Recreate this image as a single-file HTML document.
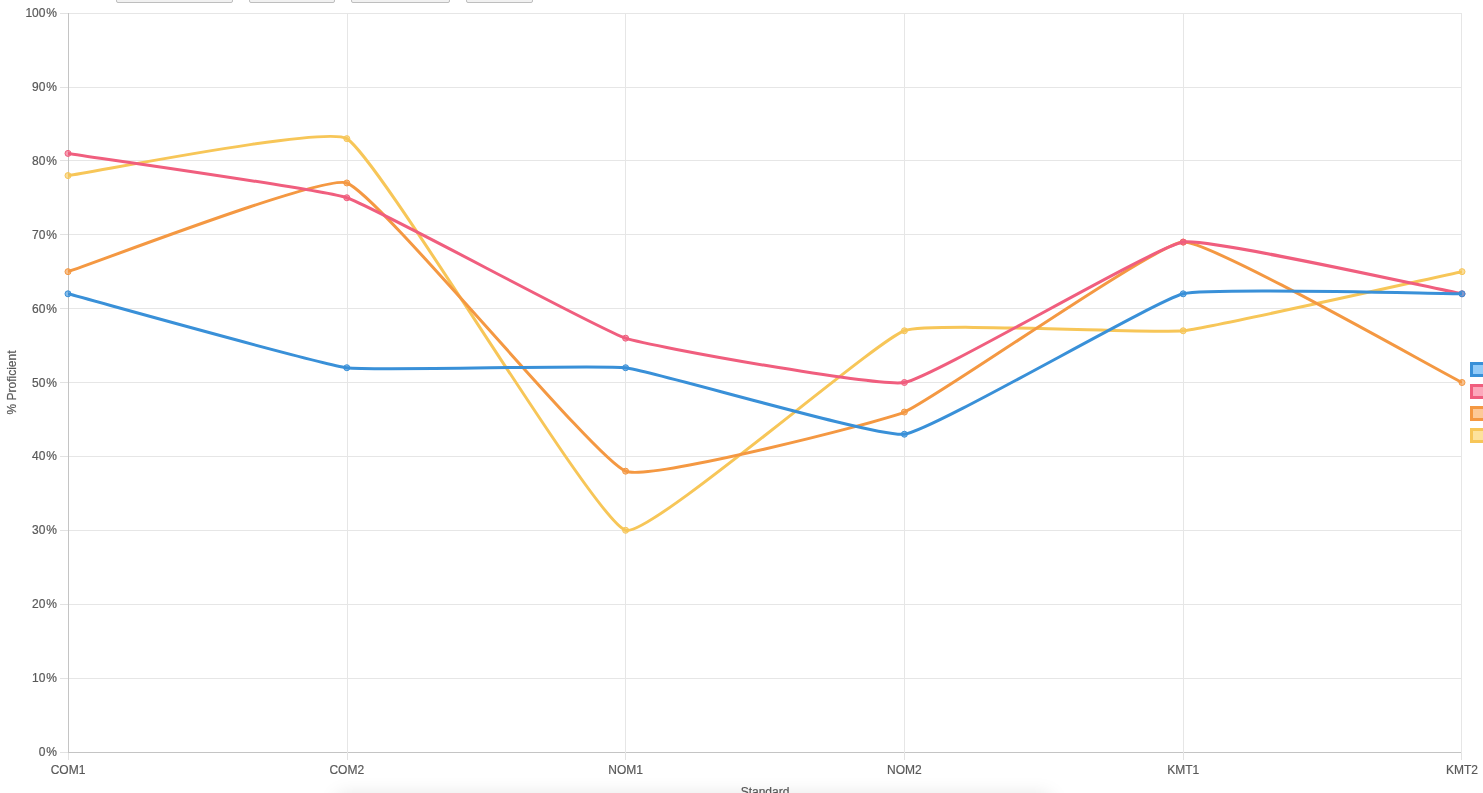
<!DOCTYPE html>
<html lang="en"><head><meta charset="utf-8"><title>Standards Proficiency</title>
<style>
html,body{margin:0;padding:0;background:#fff;}
body{width:1483px;height:793px;overflow:hidden;position:relative;font-family:"Liberation Sans",Arial,Helvetica,sans-serif;}
.btn{position:absolute;top:-20px;height:23px;box-sizing:border-box;background:#f1f1f1;border:1px solid #bebebe;border-radius:2px;}
.shadow{position:absolute;left:338px;width:712px;top:796px;height:20px;background:#ddd;box-shadow:0 0 20px 0 rgba(0,0,0,0.13);}
</style></head><body>
<div class="btn" style="left:116px;width:117px"></div><div class="btn" style="left:249px;width:86px"></div><div class="btn" style="left:351px;width:99px"></div><div class="btn" style="left:466px;width:67px"></div>
<svg width="1483" height="793" viewBox="0 0 1483 793" style="position:absolute;left:0;top:0">
<defs><clipPath id="ca"><rect x="68.0" y="13.0" width="1394.0" height="739.0"/></clipPath></defs>
<g stroke-width="1" fill="none" shape-rendering="crispEdges">
<line x1="69.0" y1="752.5" x2="1462.0" y2="752.5" stroke="#c4c4c4"/>
<line x1="60.0" y1="752.5" x2="68.0" y2="752.5" stroke="#e2e2e2"/>
<line x1="69.0" y1="678.5" x2="1462.0" y2="678.5" stroke="#e6e6e6"/>
<line x1="60.0" y1="678.5" x2="68.0" y2="678.5" stroke="#e2e2e2"/>
<line x1="69.0" y1="604.5" x2="1462.0" y2="604.5" stroke="#e6e6e6"/>
<line x1="60.0" y1="604.5" x2="68.0" y2="604.5" stroke="#e2e2e2"/>
<line x1="69.0" y1="530.5" x2="1462.0" y2="530.5" stroke="#e6e6e6"/>
<line x1="60.0" y1="530.5" x2="68.0" y2="530.5" stroke="#e2e2e2"/>
<line x1="69.0" y1="456.5" x2="1462.0" y2="456.5" stroke="#e6e6e6"/>
<line x1="60.0" y1="456.5" x2="68.0" y2="456.5" stroke="#e2e2e2"/>
<line x1="69.0" y1="382.5" x2="1462.0" y2="382.5" stroke="#e6e6e6"/>
<line x1="60.0" y1="382.5" x2="68.0" y2="382.5" stroke="#e2e2e2"/>
<line x1="69.0" y1="308.5" x2="1462.0" y2="308.5" stroke="#e6e6e6"/>
<line x1="60.0" y1="308.5" x2="68.0" y2="308.5" stroke="#e2e2e2"/>
<line x1="69.0" y1="234.5" x2="1462.0" y2="234.5" stroke="#e6e6e6"/>
<line x1="60.0" y1="234.5" x2="68.0" y2="234.5" stroke="#e2e2e2"/>
<line x1="69.0" y1="160.5" x2="1462.0" y2="160.5" stroke="#e6e6e6"/>
<line x1="60.0" y1="160.5" x2="68.0" y2="160.5" stroke="#e2e2e2"/>
<line x1="69.0" y1="87.5" x2="1462.0" y2="87.5" stroke="#e6e6e6"/>
<line x1="60.0" y1="87.5" x2="68.0" y2="87.5" stroke="#e2e2e2"/>
<line x1="69.0" y1="13.5" x2="1462.0" y2="13.5" stroke="#e6e6e6"/>
<line x1="60.0" y1="13.5" x2="68.0" y2="13.5" stroke="#e2e2e2"/>
<line x1="68.5" y1="13.0" x2="68.5" y2="753.0" stroke="#c4c4c4"/>
<line x1="68.5" y1="753.0" x2="68.5" y2="760.0" stroke="#e2e2e2"/>
<line x1="347.5" y1="13.0" x2="347.5" y2="753.0" stroke="#e6e6e6"/>
<line x1="347.5" y1="753.0" x2="347.5" y2="760.0" stroke="#e2e2e2"/>
<line x1="625.5" y1="13.0" x2="625.5" y2="753.0" stroke="#e6e6e6"/>
<line x1="625.5" y1="753.0" x2="625.5" y2="760.0" stroke="#e2e2e2"/>
<line x1="904.5" y1="13.0" x2="904.5" y2="753.0" stroke="#e6e6e6"/>
<line x1="904.5" y1="753.0" x2="904.5" y2="760.0" stroke="#e2e2e2"/>
<line x1="1183.5" y1="13.0" x2="1183.5" y2="753.0" stroke="#e6e6e6"/>
<line x1="1183.5" y1="753.0" x2="1183.5" y2="760.0" stroke="#e2e2e2"/>
<line x1="1461.5" y1="13.0" x2="1461.5" y2="753.0" stroke="#e6e6e6"/>
<line x1="1461.5" y1="753.0" x2="1461.5" y2="760.0" stroke="#e2e2e2"/>
</g>
<g font-family="'Liberation Sans', Arial, Helvetica, sans-serif" font-size="12" fill="#595959" stroke="#595959" stroke-width="0.2">
<text x="57" y="756" text-anchor="end">0<tspan dx="0.9">%</tspan></text>
<text x="57" y="682" text-anchor="end">10<tspan dx="0.9">%</tspan></text>
<text x="57" y="608" text-anchor="end">20<tspan dx="0.9">%</tspan></text>
<text x="57" y="534" text-anchor="end">30<tspan dx="0.9">%</tspan></text>
<text x="57" y="460" text-anchor="end">40<tspan dx="0.9">%</tspan></text>
<text x="57" y="387" text-anchor="end">50<tspan dx="0.9">%</tspan></text>
<text x="57" y="313" text-anchor="end">60<tspan dx="0.9">%</tspan></text>
<text x="57" y="239" text-anchor="end">70<tspan dx="0.9">%</tspan></text>
<text x="57" y="165" text-anchor="end">80<tspan dx="0.9">%</tspan></text>
<text x="57" y="91" text-anchor="end">90<tspan dx="0.9">%</tspan></text>
<text x="57" y="17" text-anchor="end">100<tspan dx="0.9">%</tspan></text>
<text x="68.0" y="774" text-anchor="middle">COM1</text>
<text x="346.8" y="774" text-anchor="middle">COM2</text>
<text x="625.6" y="774" text-anchor="middle">NOM1</text>
<text x="904.4" y="774" text-anchor="middle">NOM2</text>
<text x="1183.2" y="774" text-anchor="middle">KMT1</text>
<text x="1462.0" y="774" text-anchor="middle">KMT2</text>
<text x="765" y="796" text-anchor="middle">Standard</text>
<text transform="translate(15.8 382.5) rotate(-90)" text-anchor="middle">% Proficient</text>
</g>
<path d="M68.00 175.58 C95.88 171.89 326.22 125.54 346.80 138.63 C381.98 161.01 593.05 519.08 625.60 530.30 C648.81 538.30 873.65 341.77 904.40 330.77 C929.41 321.82 1155.63 333.69 1183.20 330.77 C1211.39 327.78 1434.12 277.56 1462.00 271.65" fill="none" stroke="rgb(247,198,88)" stroke-width="3" stroke-linejoin="miter" clip-path="url(#ca)"/>
<circle cx="68.00" cy="175.58" r="3" fill="rgba(247,198,88,0.6)" stroke="rgb(247,198,88)" stroke-width="1"/>
<circle cx="346.80" cy="138.63" r="3" fill="rgba(247,198,88,0.6)" stroke="rgb(247,198,88)" stroke-width="1"/>
<circle cx="625.60" cy="530.30" r="3" fill="rgba(247,198,88,0.6)" stroke="rgb(247,198,88)" stroke-width="1"/>
<circle cx="904.40" cy="330.77" r="3" fill="rgba(247,198,88,0.6)" stroke="rgb(247,198,88)" stroke-width="1"/>
<circle cx="1183.20" cy="330.77" r="3" fill="rgba(247,198,88,0.6)" stroke="rgb(247,198,88)" stroke-width="1"/>
<circle cx="1462.00" cy="271.65" r="3" fill="rgba(247,198,88,0.6)" stroke="rgb(247,198,88)" stroke-width="1"/>
<path d="M68.00 271.65 C95.88 262.78 323.28 174.55 346.80 182.97 C379.04 194.51 593.01 457.79 625.60 471.18 C648.77 480.70 878.41 422.74 904.40 412.06 C934.17 399.83 1154.69 243.60 1183.20 242.09 C1210.45 240.65 1434.12 368.46 1462.00 382.50" fill="none" stroke="rgb(244,152,66)" stroke-width="3" stroke-linejoin="miter" clip-path="url(#ca)"/>
<circle cx="68.00" cy="271.65" r="3" fill="rgba(244,152,66,0.6)" stroke="rgb(244,152,66)" stroke-width="1"/>
<circle cx="346.80" cy="182.97" r="3" fill="rgba(244,152,66,0.6)" stroke="rgb(244,152,66)" stroke-width="1"/>
<circle cx="625.60" cy="471.18" r="3" fill="rgba(244,152,66,0.6)" stroke="rgb(244,152,66)" stroke-width="1"/>
<circle cx="904.40" cy="412.06" r="3" fill="rgba(244,152,66,0.6)" stroke="rgb(244,152,66)" stroke-width="1"/>
<circle cx="1183.20" cy="242.09" r="3" fill="rgba(244,152,66,0.6)" stroke="rgb(244,152,66)" stroke-width="1"/>
<circle cx="1462.00" cy="382.50" r="3" fill="rgba(244,152,66,0.6)" stroke="rgb(244,152,66)" stroke-width="1"/>
<path d="M68.00 153.41 C95.88 157.84 320.32 188.98 346.80 197.75 C376.08 207.45 596.32 328.46 625.60 338.16 C652.08 346.93 877.92 387.06 904.40 382.50 C933.68 377.46 1153.98 246.74 1183.20 242.09 C1209.74 237.87 1434.12 288.65 1462.00 293.82" fill="none" stroke="rgb(240,94,126)" stroke-width="3" stroke-linejoin="miter" clip-path="url(#ca)"/>
<circle cx="68.00" cy="153.41" r="3" fill="rgba(240,94,126,0.6)" stroke="rgb(240,94,126)" stroke-width="1"/>
<circle cx="346.80" cy="197.75" r="3" fill="rgba(240,94,126,0.6)" stroke="rgb(240,94,126)" stroke-width="1"/>
<circle cx="625.60" cy="338.16" r="3" fill="rgba(240,94,126,0.6)" stroke="rgb(240,94,126)" stroke-width="1"/>
<circle cx="904.40" cy="382.50" r="3" fill="rgba(240,94,126,0.6)" stroke="rgb(240,94,126)" stroke-width="1"/>
<circle cx="1183.20" cy="242.09" r="3" fill="rgba(240,94,126,0.6)" stroke="rgb(240,94,126)" stroke-width="1"/>
<circle cx="1462.00" cy="293.82" r="3" fill="rgba(240,94,126,0.6)" stroke="rgb(240,94,126)" stroke-width="1"/>
<path d="M68.00 293.82 C95.88 301.21 318.45 363.96 346.80 367.72 C374.21 371.35 598.11 364.44 625.60 367.72 C653.87 371.09 877.71 437.77 904.40 434.23 C933.47 430.38 1153.75 301.24 1183.20 293.82 C1209.51 287.20 1434.12 293.82 1462.00 293.82" fill="none" stroke="rgb(57,144,216)" stroke-width="3" stroke-linejoin="miter" clip-path="url(#ca)"/>
<circle cx="68.00" cy="293.82" r="3" fill="rgba(57,144,216,0.6)" stroke="rgb(57,144,216)" stroke-width="1"/>
<circle cx="346.80" cy="367.72" r="3" fill="rgba(57,144,216,0.6)" stroke="rgb(57,144,216)" stroke-width="1"/>
<circle cx="625.60" cy="367.72" r="3" fill="rgba(57,144,216,0.6)" stroke="rgb(57,144,216)" stroke-width="1"/>
<circle cx="904.40" cy="434.23" r="3" fill="rgba(57,144,216,0.6)" stroke="rgb(57,144,216)" stroke-width="1"/>
<circle cx="1183.20" cy="293.82" r="3" fill="rgba(57,144,216,0.6)" stroke="rgb(57,144,216)" stroke-width="1"/>
<circle cx="1462.00" cy="293.82" r="3" fill="rgba(57,144,216,0.6)" stroke="rgb(57,144,216)" stroke-width="1"/>
<rect x="1471.5" y="363.5" width="40" height="12" fill="#93cbf8" stroke="rgb(57,144,216)" stroke-width="3"/>
<rect x="1471.5" y="385.5" width="40" height="12" fill="#fca8bb" stroke="rgb(240,94,126)" stroke-width="3"/>
<rect x="1471.5" y="407.5" width="40" height="12" fill="#fdc997" stroke="rgb(244,152,66)" stroke-width="3"/>
<rect x="1471.5" y="429.5" width="40" height="12" fill="#fde29c" stroke="rgb(247,198,88)" stroke-width="3"/>
</svg>
<div class="shadow"></div>
</body></html>
